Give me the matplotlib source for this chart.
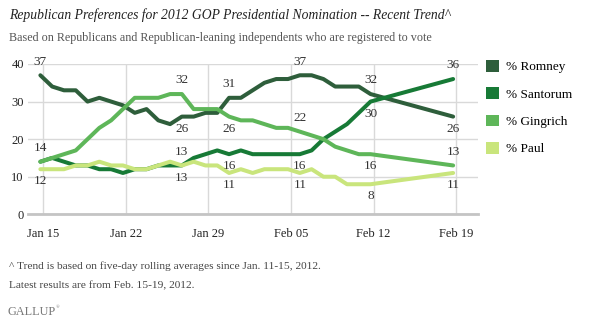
import matplotlib
matplotlib.use('Agg')
import matplotlib.pyplot as plt
import matplotlib.dates as mdates
from matplotlib.patches import Patch
import numpy as np
import pandas as pd

# daily five-day rolling averages Jan 15 - Feb 12, then Feb 19
dates = list(pd.date_range('2012-01-15', '2012-02-12', freq='D')) + [pd.Timestamp('2012-02-19')]
# the source chart plots points a few hours before midnight (timezone shift)
dates = [d - pd.Timedelta(hours=6) for d in dates]

romney = [37, 34, 33, 33, 30, 31, 30, 29, 27, 28, 25, 24, 26, 26, 27, 27, 31, 31, 33, 35,
          36, 36, 37, 37, 36, 34, 34, 34, 32, 26]
santorum = [14, 15, 14, 13, 13, 12, 12, 11, 12, 12, 13, 13, 13, 15, 16, 17, 16, 17, 16, 16,
            16, 16, 16, 17, 20, 22, 24, 27, 30, 36]
gingrich = [14, 15, 16, 17, 20, 23, 25, 28, 31, 31, 31, 32, 32, 28, 28, 28, 26, 25, 25, 24,
            23, 23, 22, 21, 20, 18, 17, 16, 16, 13]
paul = [12, 12, 12, 13, 13, 14, 13, 13, 12, 12, 13, 14, 13, 14, 13, 13, 11, 12, 11, 12,
        12, 12, 11, 12, 10, 10, 8, 8, 8, 11]

names = ['% Romney', '% Santorum', '% Gingrich', '% Paul']
colors = ['#2e5e3b', '#177a36', '#5eb659', '#c9e57c']

tick_dates = ['2012-01-15', '2012-01-22', '2012-01-29', '2012-02-05', '2012-02-12', '2012-02-19']

# which points carry a value label: (series, point index, above?)
point_labels = [
    (0, 0, True), (2, 0, True), (3, 0, False),
    (2, 12, True), (0, 12, False), (1, 12, True), (3, 12, False),
    (0, 16, True), (2, 16, False), (1, 16, False), (3, 16, False),
    (0, 22, True), (2, 22, True), (1, 22, False), (3, 22, False),
    (0, 28, True), (1, 28, False), (2, 28, False), (3, 28, False),
    (1, 29, True), (0, 29, False), (2, 29, True), (3, 29, False),
]


def main():
    plt.rcParams['font.family'] = ['Liberation Serif', 'DejaVu Serif']
    fig = plt.figure(figsize=(5.89, 3.24), dpi=100)
    ax = fig.add_axes([28 / 589, 1 - 214.3 / 324, 450 / 589, 150.3 / 324])

    series = [romney, santorum, gingrich, paul]
    for i, values in enumerate(series):
        ax.plot(dates, values, color=colors[i], lw=2.9, solid_joinstyle='round',
                solid_capstyle='round', zorder=3 + i, clip_on=False)

    for s, idx, above in point_labels:
        v = series[s][idx]
        ax.annotate(str(v), (dates[idx], v), xytext=(0, 5.5 if above else -4.5),
                    textcoords='offset points', ha='center',
                    va='bottom' if above else 'top', fontsize=9.5, color='#333333', zorder=10)

    ax.set_ylim(0, 40)
    ax.set_yticks([0, 10, 20, 30, 40])
    left = pd.Timestamp('2012-01-15') - pd.Timedelta(days=1.3)
    right = pd.Timestamp('2012-02-19') + pd.Timedelta(days=1.86)
    ax.set_xlim(left, right)
    ax.set_xticks([pd.Timestamp(t) for t in tick_dates])
    ax.xaxis.set_major_formatter(mdates.DateFormatter('%b %d'))

    ax.grid(True, color='#d9d9d9', lw=1)
    ax.set_axisbelow(True)
    for side in ['top', 'right', 'left']:
        ax.spines[side].set_visible(False)
    ax.spines['bottom'].set_color('#c4c4c4')
    ax.spines['bottom'].set_linewidth(2)
    ax.tick_params(length=0, labelsize=9, colors='#222222')
    ax.tick_params(axis='y', pad=3)
    ax.tick_params(axis='x', pad=10)

    handles = [Patch(facecolor=c, edgecolor='none') for c in colors]
    fig.legend(handles, names, loc='upper left', bbox_to_anchor=(486 / 589, 1 - 60 / 324),
               frameon=False, fontsize=9.5, handlelength=1.0, handleheight=1.0,
               handletextpad=0.55, labelspacing=1.05, borderpad=0, borderaxespad=0)

    fig.text(9 / 589, 1 - 15 / 324,
             'Republican Preferences for 2012 GOP Presidential Nomination -- Recent Trend^',
             fontsize=9.85, style='italic', color='#222222', va='center')
    fig.text(9 / 589, 1 - 38 / 324,
             'Based on Republicans and Republican-leaning independents who are registered to vote',
             fontsize=8.75, color='#555555', va='center')
    fig.text(9 / 589, 1 - 266.5 / 324,
             '^ Trend is based on five-day rolling averages since Jan. 11-15, 2012.',
             fontsize=8.2, color='#444444', va='center')
    fig.text(9 / 589, 1 - 285.5 / 324, 'Latest results are from Feb. 15-19, 2012.',
             fontsize=8.2, color='#444444', va='center')
    fig.text(7 / 589, 1 - 312 / 324, 'GALLUP', fontsize=8.8, color='#777777', va='center')
    fig.text(56 / 589, 1 - 307 / 324, '\u00ae', fontsize=3.5, color='#777777', va='center')

    fig.savefig('out.png', dpi=100)


if __name__ == '__main__':
    main()
